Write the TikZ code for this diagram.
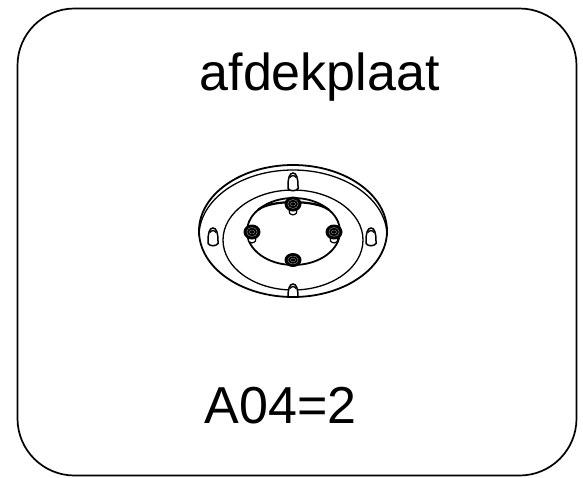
\documentclass[tikz,border=0pt]{standalone}
\usepackage{fontspec}
\setmainfont{Liberation Sans}
\tikzset{
  label text/.style={inner sep=0pt,anchor=base west,font=\fontsize{52}{53}\selectfont},
  frame line/.style={line width=1.7pt,rounded corners=57pt},
  disc line/.style={line width=1.8pt},
  thin disc/.style={line width=1.3pt},
  pic slot/.pic={\draw[line width=1.5pt,fill=white] (-5,6.5) -- (-5,4) .. controls (-5,-4) and (-3.5,-9) .. (0,-9) .. controls (3.5,-9) and (5,-4) .. (5,4) -- (5,6.5) .. controls (3,9.5) and (-3,9.5) .. (-5,6.5) -- cycle;
     \draw[line width=1.3pt] (-3,-4.5) .. controls (-1.5,-7) and (1.5,-7) .. (3,-4.5);},
  pic screw/.pic={\draw[line width=1.2pt,fill=white] (-4,3) -- (-3.5,9) .. controls (-1.5,11.5) and (1.5,11.5) .. (3.5,9) -- (4,3) -- cycle;
     \fill[black] (0,0) ellipse (8.5 and 7.5);
     \draw[white!70!black,line width=0.3pt] (0,0) ellipse (5.2 and 4.5);
     \draw[white!70!black,line width=0.3pt] (0,0) ellipse (2.5 and 2);},
}
\begin{document}
\begin{tikzpicture}[x=1pt,y=-1pt]
\useasboundingbox (0,0) rectangle (583,477);
\draw[frame line] (17.5,8.5) rectangle (576.5,475.5);
\node[label text] (title) at (199.5,90) {afdekplaat};
\node[label text] (count) at (204.5,423.5) {A04=2};
% plate
\draw[thin disc] (293,240) ellipse (70 and 50);
\draw[disc line] (293.5,231.5) ellipse (46.5 and 33.5);
\draw[line width=2.2pt] (258,210) .. controls (270,199.5) and (316,199.5) .. (329,210);
% mounting slots
\path (293,182) pic {pic slot};
\path (213,237) pic {pic slot};
\path (371,237) pic {pic slot};
\begin{scope}
\clip (280,280) rectangle (306,297);
\path (293,293) pic {pic slot};
\end{scope}
\draw[disc line] (293,231) ellipse (94 and 66);
\draw[thin disc] (199,236) arc[start angle=180,end angle=360,x radius=94,y radius=66];
% screws
\path (293,204) pic {pic screw};
\path (252,232) pic {pic screw};
\path (334,232) pic {pic screw};
\fill[black] (293,260) ellipse (8.5 and 7);
\draw[white!70!black,line width=0.3pt] (293,260) ellipse (5.2 and 4);
\draw[white!70!black,line width=0.3pt] (293,260) ellipse (2.5 and 1.8);
\end{tikzpicture}
\end{document}
